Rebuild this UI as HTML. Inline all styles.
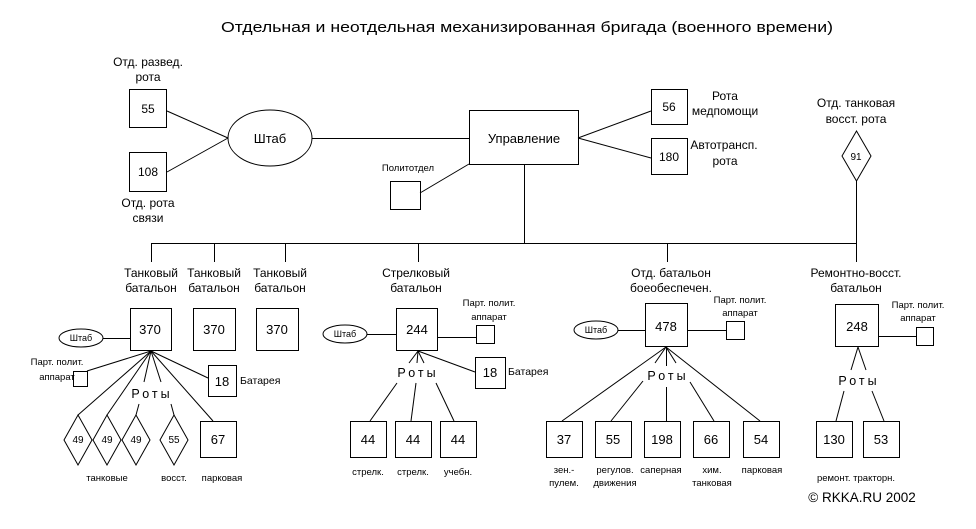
<!DOCTYPE html>
<html><head><meta charset="utf-8"><style>
html,body{margin:0;padding:0;background:#fff;}
svg{display:block;}
text{font-family:"Liberation Sans",sans-serif;fill:#000;}
.m{font-size:12px;text-anchor:middle;}
.s{font-size:9.5px;text-anchor:middle;}
.n{font-size:13px;text-anchor:middle;}
</style></head><body>
<svg width="976" height="529" viewBox="0 0 976 529" xmlns="http://www.w3.org/2000/svg">
<g fill="none" stroke="#000" stroke-width="1">
<!-- top -->
<rect x="129.5" y="89.5" width="37" height="38"/>
<rect x="129.5" y="152.5" width="37" height="39"/>
<ellipse cx="270" cy="138" rx="42" ry="28"/>
<line x1="167" y1="111" x2="228" y2="138"/><line x1="167" y1="172" x2="228" y2="138"/>
<line x1="312" y1="138.5" x2="469" y2="138.5"/>
<rect x="469.5" y="110.5" width="109" height="54"/>
<rect x="390.5" y="181.5" width="30" height="28"/>
<line x1="420" y1="193" x2="469" y2="164"/>
<line x1="524.5" y1="164" x2="524.5" y2="243"/>
<rect x="651.5" y="89.5" width="36" height="35"/>
<rect x="651.5" y="138.5" width="36" height="36"/>
<line x1="578" y1="138" x2="651" y2="111"/><line x1="578" y1="138" x2="651" y2="158"/>
<polygon points="856.5,131 871,156 856.5,181 842,156"/>
<line x1="856.5" y1="181" x2="856.5" y2="262"/>
<line x1="151" y1="243.5" x2="857" y2="243.5"/>
<line x1="151.5" y1="243" x2="151.5" y2="262"/><line x1="214.5" y1="243" x2="214.5" y2="262"/>
<line x1="285.5" y1="243" x2="285.5" y2="262"/><line x1="418.5" y1="243" x2="418.5" y2="262"/>
<line x1="667.5" y1="243" x2="667.5" y2="262"/>
<!-- tank -->
<rect x="130.5" y="308.5" width="41" height="42"/>
<rect x="193.5" y="308.5" width="42" height="42"/>
<rect x="256.5" y="308.5" width="42" height="42"/>
<ellipse cx="81" cy="338" rx="22" ry="9"/>
<line x1="103" y1="338.5" x2="130" y2="338.5"/>
<rect x="73.5" y="371.5" width="14" height="15"/>
<line x1="151" y1="351" x2="87" y2="371"/>
<rect x="208.5" y="365.5" width="28" height="31"/>
<line x1="151" y1="351" x2="208" y2="378"/>
<line x1="151" y1="351" x2="78" y2="415"/>
<line x1="151" y1="351" x2="107" y2="415"/>
<line x1="151" y1="351" x2="144" y2="382"/><line x1="139" y1="404" x2="136" y2="415"/>
<line x1="151" y1="351" x2="161" y2="382"/><line x1="171" y1="404" x2="174" y2="415"/>
<line x1="151" y1="351" x2="213" y2="421"/>
<polygon points="78,415 92,440 78,465 64,440"/>
<polygon points="107,415 121,440 107,465 93,440"/>
<polygon points="136,415 150,440 136,465 122,440"/>
<polygon points="174,415 188,440 174,465 160,440"/>
<rect x="200.5" y="421.5" width="36" height="36"/>
<!-- strel -->
<rect x="396.5" y="308.5" width="41" height="42"/>
<ellipse cx="345" cy="334" rx="22" ry="9"/>
<line x1="367" y1="334.5" x2="396" y2="334.5"/>
<rect x="476.5" y="325.5" width="18" height="18"/>
<line x1="437" y1="337.5" x2="476" y2="337.5"/>
<rect x="475.5" y="357.5" width="30" height="31"/>
<line x1="418" y1="351" x2="475" y2="372"/>
<line x1="418" y1="351" x2="409" y2="363"/><line x1="418" y1="351" x2="417" y2="363"/><line x1="418" y1="351" x2="424" y2="363"/>
<line x1="397" y1="383" x2="370" y2="421"/><line x1="416" y1="383" x2="411" y2="421"/><line x1="436" y1="383" x2="454" y2="421"/>
<rect x="350.5" y="421.5" width="36" height="36"/>
<rect x="395.5" y="421.5" width="36" height="36"/>
<rect x="440.5" y="421.5" width="36" height="36"/>
<!-- boeob -->
<rect x="645.5" y="303.5" width="42" height="43"/>
<ellipse cx="596" cy="330" rx="22" ry="9"/>
<line x1="618" y1="330.5" x2="645" y2="330.5"/>
<rect x="726.5" y="321.5" width="18" height="18"/>
<line x1="687" y1="330.5" x2="726" y2="330.5"/>
<line x1="666" y1="347" x2="562" y2="421"/>
<line x1="666" y1="347" x2="655" y2="363"/><line x1="643" y1="381" x2="611" y2="421"/>
<line x1="666.5" y1="347" x2="666.5" y2="366"/><line x1="666.5" y1="387" x2="666.5" y2="421"/>
<line x1="666" y1="347" x2="676" y2="363"/><line x1="690" y1="382" x2="714" y2="421"/>
<line x1="666" y1="347" x2="760" y2="421"/>
<rect x="546.5" y="421.5" width="36" height="36"/>
<rect x="595.5" y="421.5" width="36" height="36"/>
<rect x="644.5" y="421.5" width="36" height="36"/>
<rect x="693.5" y="421.5" width="36" height="36"/>
<rect x="743.5" y="421.5" width="36" height="36"/>
<!-- remont -->
<rect x="835.5" y="304.5" width="43" height="42"/>
<rect x="916.5" y="327.5" width="17" height="18"/>
<line x1="878" y1="336.5" x2="916" y2="336.5"/>
<line x1="858" y1="347" x2="851" y2="370"/><line x1="858" y1="347" x2="866" y2="370"/>
<line x1="844" y1="391" x2="836" y2="421"/><line x1="872" y1="391" x2="884" y2="421"/>
<rect x="816.5" y="421.5" width="36" height="36"/>
<rect x="863.5" y="421.5" width="36" height="36"/>
</g>
<text x="527" y="32" font-size="15" text-anchor="middle" textLength="612" lengthAdjust="spacingAndGlyphs">Отдельная и неотдельная механизированная бригада (военного времени)</text>
<text class="m" x="148" y="66">Отд. развед.</text><text class="m" x="148" y="81">рота</text>
<text class="m" x="148" y="113">55</text><text class="m" x="148" y="176">108</text>
<text class="m" x="148" y="207">Отд. рота</text><text class="m" x="148" y="222">связи</text>
<text x="270" y="143" font-size="13" text-anchor="middle">Штаб</text>
<text x="524" y="143" font-size="13" text-anchor="middle">Управление</text>
<text class="s" x="408" y="171">Политотдел</text>
<text class="m" x="669" y="111">56</text><text class="m" x="669" y="161">180</text>
<text class="m" x="725" y="100">Рота</text><text class="m" x="725" y="115">медпомощи</text>
<text class="m" x="724" y="149">Автотрансп.</text><text class="m" x="725" y="165">рота</text>
<text class="m" x="856" y="107">Отд. танковая</text><text class="m" x="856" y="123">восст. рота</text>
<text x="856" y="160" font-size="10" text-anchor="middle">91</text>
<text class="m" x="151" y="277">Танковый</text><text class="m" x="151" y="292">батальон</text>
<text class="m" x="214" y="277">Танковый</text><text class="m" x="214" y="292">батальон</text>
<text class="m" x="280" y="277">Танковый</text><text class="m" x="280" y="292">батальон</text>
<text class="m" x="416" y="277">Стрелковый</text><text class="m" x="416" y="292">батальон</text>
<text class="m" x="671" y="277">Отд. батальон</text><text class="m" x="671" y="292">боеобеспечен.</text>
<text class="m" x="856" y="277">Ремонтно-восст.</text><text class="m" x="856" y="292">батальон</text>
<text class="n" x="150" y="334">370</text><text class="n" x="214" y="334">370</text><text class="n" x="277" y="334">370</text>
<text x="81" y="341" font-size="9" text-anchor="middle">Штаб</text>
<text class="s" x="57" y="365">Парт. полит.</text><text class="s" x="57" y="380">аппарат</text>
<text class="n" x="222" y="386">18</text><text x="240" y="384" font-size="10.5">Батарея</text>
<text x="152" y="398" font-size="12.5" text-anchor="middle" letter-spacing="3">Роты</text>
<text x="78" y="443" font-size="10" text-anchor="middle">49</text>
<text x="107" y="443" font-size="10" text-anchor="middle">49</text>
<text x="136" y="443" font-size="10" text-anchor="middle">49</text>
<text x="174" y="443" font-size="10" text-anchor="middle">55</text>
<text class="n" x="218" y="444">67</text>
<text class="s" x="107" y="481">танковые</text><text class="s" x="174" y="481">восст.</text><text class="s" x="222" y="481">парковая</text>
<text class="n" x="417" y="334">244</text>
<text x="345" y="337" font-size="9" text-anchor="middle">Штаб</text>
<text class="s" x="489" y="306">Парт. полит.</text><text class="s" x="489" y="320">аппарат</text>
<text class="n" x="490" y="377">18</text><text x="508" y="375" font-size="10.5">Батарея</text>
<text x="418" y="377" font-size="12.5" text-anchor="middle" letter-spacing="3">Роты</text>
<text class="n" x="368" y="444">44</text><text class="n" x="413" y="444">44</text><text class="n" x="458" y="444">44</text>
<text class="s" x="368" y="475">стрелк.</text><text class="s" x="413" y="475">стрелк.</text><text class="s" x="458" y="475">учебн.</text>
<text class="n" x="666" y="331">478</text>
<text x="596" y="333" font-size="9" text-anchor="middle">Штаб</text>
<text class="s" x="740" y="303">Парт. полит.</text><text class="s" x="740" y="316">аппарат</text>
<text x="668" y="380" font-size="12.5" text-anchor="middle" letter-spacing="3">Роты</text>
<text class="n" x="564" y="444">37</text><text class="n" x="613" y="444">55</text><text class="n" x="662" y="444">198</text>
<text class="n" x="711" y="444">66</text><text class="n" x="761" y="444">54</text>
<text class="s" x="564" y="473">зен.-</text><text class="s" x="564" y="486">пулем.</text>
<text class="s" x="615" y="473">регулов.</text><text class="s" x="615" y="486">движения</text>
<text class="s" x="661" y="473">саперная</text>
<text class="s" x="712" y="473">хим.</text><text class="s" x="712" y="486">танковая</text>
<text class="s" x="762" y="473">парковая</text>
<text class="n" x="857" y="331">248</text>
<text class="s" x="918" y="308">Парт. полит.</text><text class="s" x="918" y="321">аппарат</text>
<text x="859" y="385" font-size="12.5" text-anchor="middle" letter-spacing="3">Роты</text>
<text class="n" x="834" y="444">130</text><text class="n" x="881" y="444">53</text>
<text class="s" x="856" y="481">ремонт. тракторн.</text>
<text x="862" y="502" font-size="13.5" text-anchor="middle">© RKKA.RU 2002</text>
</svg>
</body></html>
